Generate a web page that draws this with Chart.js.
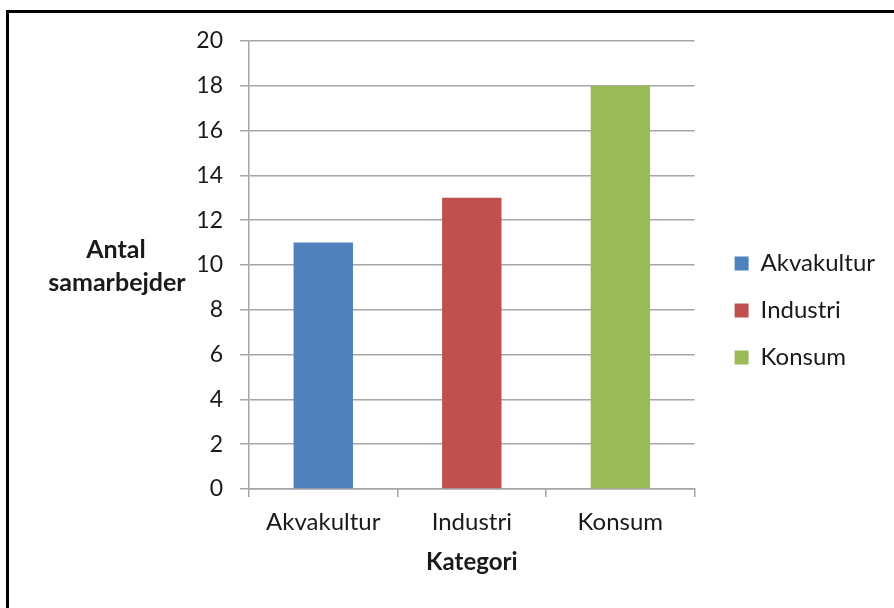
<!DOCTYPE html>
<html>
<head>
<meta charset="utf-8">
<script src="https://cdn.jsdelivr.net/npm/chart.js@4.4.1/dist/chart.umd.min.js"></script>
<style>
  html, body { margin: 0; padding: 0; background: #fff; }
  #wrap { position: relative; width: 894px; height: 608px; overflow: hidden; }
  #frame {
    position: absolute; left: 6px; top: 10px; width: 1000px; height: 700px;
    border-top: 3px solid #000; border-left: 3px solid #000;
    box-sizing: border-box; pointer-events: none;
  }
  canvas { position: absolute; left: 0; top: 0; }
</style>
</head>
<body>
<div id="wrap">
  <canvas id="chart" width="894" height="608"></canvas>
  <div id="frame"></div>
</div>
<script>
const categories = ["Akvakultur", "Industri", "Konsum"];
const counts = [11, 13, 18];
const colors = ["#4F81BD", "#C0504D", "#9BBB59"];
const yTitle = ["Antal", "samarbejder"];
const xTitle = "Kategori";

const FONT = "Lato, 'Open Sans', sans-serif";
const GRID = "#A6A6A6";
const INK = "#1a1a1a";

// one dataset per category so the legend lists all three
const datasets = categories.map((name, i) => ({
  label: name,
  data: categories.map((_, j) => (j === i ? counts[i] : null)),
  backgroundColor: colors[i],
  borderWidth: 0,
  barPercentage: 0.4,
  categoryPercentage: 1
}));

// horizontal y axis title, left of the tick labels
const yTitlePlugin = {
  id: "yTitle",
  afterDraw(chart) {
    const { ctx, chartArea } = chart;
    const cy = (chartArea.top + chartArea.bottom) / 2;
    ctx.save();
    ctx.font = "bold 25px " + FONT;
    ctx.fillStyle = INK;
    ctx.textAlign = "center";
    ctx.textBaseline = "middle";
    ctx.fillText(yTitle[0], 116, cy - 15);
    ctx.fillText(yTitle[1], 117, cy + 18);
    ctx.restore();
  }
};

// nudge the legend block up and right of its default slot
const legendShift = {
  id: "legendShift",
  afterLayout(chart) {
    const lg = chart.legend;
    lg.top -= 14; lg.bottom -= 14;
    lg.left += 17; lg.right += 17;
  }
};

new Chart(document.getElementById("chart"), {
  type: "bar",
  data: { labels: categories, datasets },
  plugins: [yTitlePlugin, legendShift],
  options: {
    responsive: false,
    animation: false,
    skipNull: true,
    layout: { padding: { top: 41, right: 26, bottom: 0, left: 0 } },
    plugins: {
      tooltip: { enabled: false },
      legend: {
        position: "right",
        labels: {
          boxWidth: 14,
          boxHeight: 14,
          padding: 23,
          color: INK,
          font: { family: FONT, size: 24 }
        }
      }
    },
    scales: {
      x: {
        afterFit(scale) { scale.height = 119; },
        grid: {
          offset: true,
          drawOnChartArea: false,
          drawTicks: true,
          tickLength: 8,
          color: GRID,
          lineWidth: 1.5
        },
        border: { color: GRID, width: 1.5 },
        ticks: { color: INK, padding: 11, font: { family: FONT, size: 24 } },
        title: {
          display: true,
          text: xTitle,
          color: INK,
          padding: { top: 0, bottom: 31 },
          font: { family: FONT, size: 24, weight: "bold" }
        }
      },
      y: {
        min: 0,
        max: 20,
        afterFit(scale) { scale.width = 249; },
        grid: { color: GRID, lineWidth: 1.5, tickLength: 9 },
        border: { color: GRID, width: 1.5 },
        ticks: { stepSize: 2, color: INK, padding: 17, font: { family: FONT, size: 23 } }
      }
    }
  }
});
</script>
</body>
</html>
